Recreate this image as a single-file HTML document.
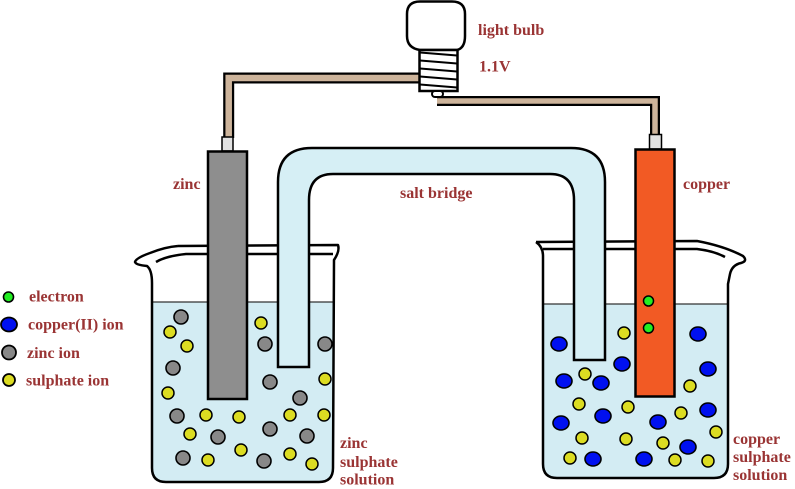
<!DOCTYPE html>
<html><head><meta charset="utf-8"><style>
html,body{margin:0;padding:0;background:#fff;}
svg{display:block;}
text{font-family:"Liberation Serif",serif;font-weight:bold;font-size:16px;fill:#9a3434;}
</style></head><body>
<svg width="795" height="489" viewBox="0 0 795 489" xmlns="http://www.w3.org/2000/svg">
<!-- liquids -->
<path d="M152 302 L333 302 L333 468 Q333 482 319 482 L166 482 Q152 482 152 468 Z" fill="#d3ecf3"/>
<path d="M543 304 L728 304 L728 464 Q728 478 714 478 L557 478 Q543 478 543 464 Z" fill="#d3ecf3"/>
<line x1="152" y1="302" x2="333" y2="302" stroke="#333" stroke-width="1.2"/>
<line x1="543" y1="304" x2="728" y2="304" stroke="#333" stroke-width="1.2"/>

<!-- left ions -->
<g stroke="#000" stroke-width="1.6" fill="#888">
<circle cx="181" cy="317" r="7"/><circle cx="173" cy="368" r="7"/><circle cx="177" cy="416" r="7"/>
<circle cx="183" cy="458" r="7"/><circle cx="218" cy="437" r="7"/><circle cx="265" cy="344" r="7"/>
<circle cx="270" cy="382" r="7"/><circle cx="300" cy="398" r="7"/><circle cx="325" cy="344" r="7"/>
<circle cx="270" cy="429" r="7"/><circle cx="307" cy="436" r="7"/><circle cx="264" cy="461" r="7"/>
</g>
<g stroke="#000" stroke-width="1.5" fill="#dcdc22">
<circle cx="170" cy="332" r="6"/><circle cx="187" cy="346" r="6"/><circle cx="168" cy="393" r="6"/>
<circle cx="206" cy="415" r="6"/><circle cx="239" cy="417" r="6"/><circle cx="190" cy="434" r="6"/>
<circle cx="208" cy="460" r="6"/><circle cx="241" cy="450" r="6"/><circle cx="261" cy="323" r="6"/>
<circle cx="325" cy="379" r="6"/><circle cx="290" cy="415" r="6"/><circle cx="324" cy="415" r="6"/>
<circle cx="290" cy="454" r="6"/><circle cx="312" cy="464" r="6"/>
</g>
<!-- right ions -->
<g stroke="#000" stroke-width="1.6" fill="#0010f0">
<ellipse cx="559" cy="344" rx="8" ry="7"/><ellipse cx="698" cy="334" rx="8" ry="7"/><ellipse cx="622" cy="364" rx="8" ry="7"/>
<ellipse cx="564" cy="381" rx="8" ry="7"/><ellipse cx="601" cy="383" rx="8" ry="7"/><ellipse cx="708" cy="369" rx="8" ry="7"/>
<ellipse cx="603" cy="416" rx="8" ry="7"/><ellipse cx="561" cy="423" rx="8" ry="7"/><ellipse cx="658" cy="422" rx="8" ry="7"/>
<ellipse cx="708" cy="410" rx="8" ry="7"/><ellipse cx="688" cy="447" rx="8" ry="7"/><ellipse cx="593" cy="459" rx="8" ry="7"/>
<ellipse cx="644" cy="459" rx="8" ry="7"/>
</g>
<g stroke="#000" stroke-width="1.5" fill="#dcdc22">
<circle cx="624" cy="333" r="6"/><circle cx="585" cy="374" r="6"/><circle cx="690" cy="386" r="6"/>
<circle cx="579" cy="404" r="6"/><circle cx="628" cy="407" r="6"/><circle cx="681" cy="413" r="6"/>
<circle cx="716" cy="432" r="6"/><circle cx="582" cy="438" r="6"/><circle cx="626" cy="439" r="6"/>
<circle cx="663" cy="443" r="6"/><circle cx="570" cy="458" r="6"/><circle cx="675" cy="460" r="6"/>
<circle cx="708" cy="461" r="6"/>
</g>

<!-- beakers outlines -->
<g fill="none" stroke="#000" stroke-width="2.5" stroke-linejoin="round">
<path d="M178 246 L338 245 Q340 251 334 260 L333 468 Q333 482 319 482 L166 482 Q152 482 152 468 L152 283 Q152 270 147 266 Q136 265 135 262 Q136 258 150 253 Q165 247 178 246"/>
<path d="M156 262 Q166 256 186 254 L333 254"/>
<path d="M536 242 L697 241 Q724 246 743 256 Q748 261 741 263 Q732 265 730 274 L728 284 L728 464 Q728 478 714 478 L557 478 Q543 478 543 464 L543 256 Q543 247 536 242"/>
<path d="M543 249 L697 249 Q714 251 725 257"/>
</g>

<!-- salt bridge -->
<path d="M278 367 L278 182 Q278 148 312 148 L571 148 Q605 148 605 182 L605 360 L574 360 L574 200 Q574 174 550 174 L333 174 Q309 174 309 200 L309 367 Z" fill="#d6eff5" stroke="#000" stroke-width="2.5"/>

<!-- wires -->
<path d="M228.7 138 L228.7 78 L419 78" fill="none" stroke="#000" stroke-width="11"/>
<path d="M228.7 138 L228.7 78 L419 78" fill="none" stroke="#cdb49b" stroke-width="6.5"/>
<path d="M437 101 L655 101 L655 135" fill="none" stroke="#000" stroke-width="10"/>
<path d="M437 101 L655 101 L655 135" fill="none" stroke="#cdb49b" stroke-width="5.5"/>

<!-- connectors -->
<rect x="222" y="137" width="11" height="14" fill="#e2e2e2" stroke="#000" stroke-width="1.5"/>
<rect x="649.5" y="134.5" width="12" height="14.5" fill="#e2e2e2" stroke="#000" stroke-width="1.5"/>

<!-- electrodes -->
<rect x="208" y="151.5" width="39" height="247.5" fill="#8e8e8e" stroke="#000" stroke-width="2.5"/>
<rect x="635.5" y="149.5" width="39" height="247" fill="#f25a24" stroke="#000" stroke-width="2.5"/>
<circle cx="648.5" cy="301" r="5" fill="#22ee22" stroke="#000" stroke-width="1.5"/>
<circle cx="648.5" cy="328" r="5" fill="#22ee22" stroke="#000" stroke-width="1.5"/>

<!-- bulb -->
<path d="M420 50 Q407 48 407 36 L407 14 Q407 1.5 420 1.5 L452 1.5 Q465 1.5 465 14 L465 36 Q465 48 457 50 Z" fill="#fff" stroke="#000" stroke-width="2.5"/>
<rect x="419.5" y="50" width="38" height="41" fill="#fff" stroke="#000" stroke-width="2.5"/>
<g stroke="#000" stroke-width="2">
<line x1="420" y1="52.5" x2="457" y2="55.5"/>
<line x1="420" y1="60.5" x2="457" y2="63.5"/>
<line x1="420" y1="68.5" x2="457" y2="71.5"/>
<line x1="420" y1="76.5" x2="457" y2="79.5"/>
<line x1="420" y1="84.5" x2="457" y2="87.5"/>
</g>
<rect x="432" y="91" width="11" height="6" rx="3" fill="#fff" stroke="#000" stroke-width="2"/>

<!-- labels -->
<text x="478" y="35">light bulb</text>
<text x="479" y="71.5">1.1V</text>
<text x="400" y="198">salt bridge</text>
<text x="173" y="189">zinc</text>
<text x="683" y="189">copper</text>

<circle cx="8.5" cy="297" r="5" fill="#22ee22" stroke="#000" stroke-width="1.6"/>
<ellipse cx="9" cy="324.5" rx="8" ry="7" fill="#0010f0" stroke="#000" stroke-width="1.8"/>
<circle cx="9" cy="352.5" r="7" fill="#888" stroke="#000" stroke-width="1.8"/>
<circle cx="9" cy="380" r="6" fill="#dcdc22" stroke="#000" stroke-width="1.8"/>
<text x="29" y="301.5">electron</text>
<text x="28" y="329.5">copper(II) ion</text>
<text x="27" y="358">zinc ion</text>
<text x="26" y="385.5">sulphate ion</text>

<text x="340" y="448">zinc</text>
<text x="340" y="467">sulphate</text>
<text x="340" y="484.5">solution</text>
<text x="733" y="444">copper</text>
<text x="733" y="462">sulphate</text>
<text x="733" y="480">solution</text>
</svg>
</body></html>
